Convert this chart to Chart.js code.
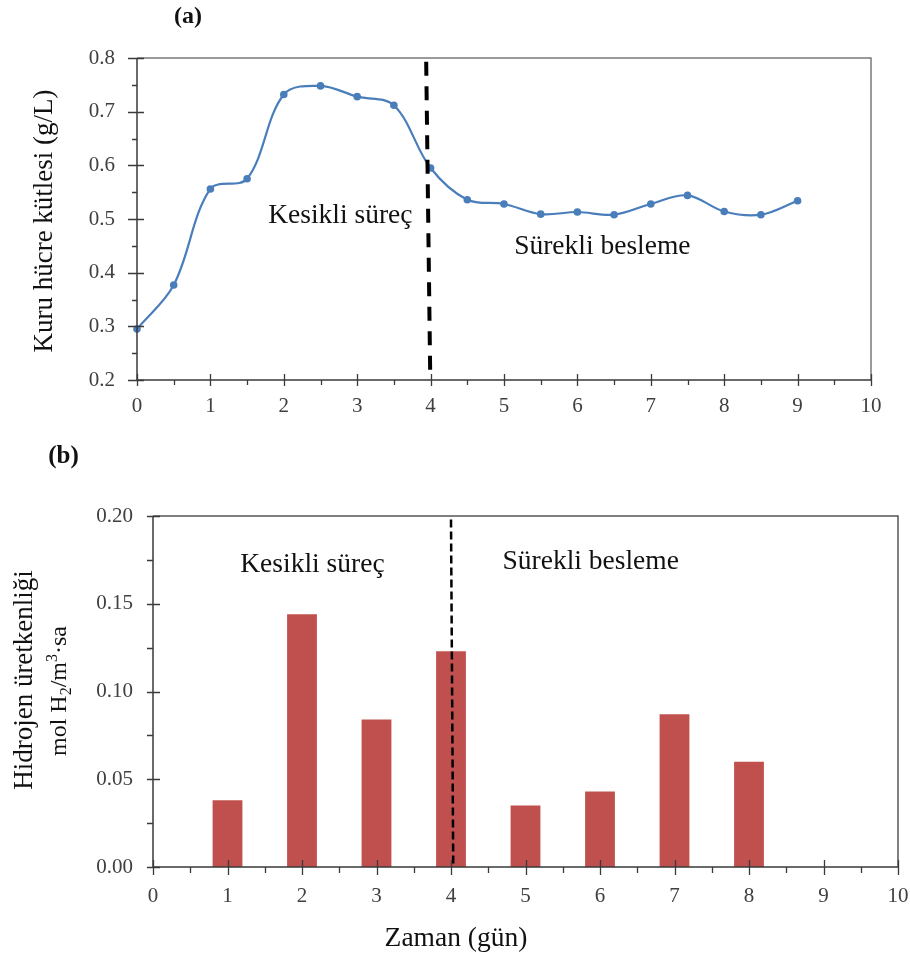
<!DOCTYPE html>
<html lang="tr">
<head>
<meta charset="utf-8">
<title>Kuru hücre kütlesi ve hidrojen üretkenliği</title>
<script src="https://cdn.jsdelivr.net/npm/chart.js@4.4.1/dist/chart.umd.min.js"></script>
<style>
  html, body { margin: 0; padding: 0; background: #fff; }
  #wrap { position: relative; width: 910px; height: 957px; }
  #chartA { position: absolute; left: 0; top: 0; }
  #chartB { position: absolute; left: 0; top: 420px; }
</style>
</head>
<body>
<div id="wrap">
  <canvas id="chartA" width="910" height="420"></canvas>
  <canvas id="chartB" width="910" height="537"></canvas>
</div>
<script>
// (a) dry cell mass, g/L
const daysA = [0, 0.5, 1, 1.5, 2, 2.5, 3, 3.5, 4, 4.5, 5, 5.5, 6, 6.5, 7, 7.5, 8, 8.5, 9];
const dryMass = [0.295, 0.377, 0.556, 0.575, 0.732, 0.748, 0.728, 0.712, 0.595, 0.536,
                 0.528, 0.509, 0.513, 0.508, 0.528, 0.544, 0.514, 0.508, 0.534];

// (b) hydrogen productivity, mol H2/m3.sa
const daysB = [1, 2, 3, 4, 5, 6, 7, 8];
const h2Rate = [0.038, 0.144, 0.084, 0.123, 0.035, 0.043, 0.087, 0.060];

// tick labels
const ticksA_y = [0.2, 0.3, 0.4, 0.5, 0.6, 0.7, 0.8];
const ticksB_y = [0.00, 0.05, 0.10, 0.15, 0.20];
const ticksX = [0, 1, 2, 3, 4, 5, 6, 7, 8, 9, 10];

const SERIF = "'Liberation Serif', 'Times New Roman', serif";
const TICK_COLOR = '#404040';
const AXIS_COLOR = '#3a3a3a';

/**
 * Draws axis lines, crossing/minor tick marks, frame and free texts
 */
const framePlugin = {
  id: 'frame',
  afterDraw(chart, args, o) {
    const { ctx, chartArea: a, scales: { x, y } } = chart;
    ctx.save();

    // top + right frame
    ctx.lineWidth = 1.5;
    ctx.strokeStyle = o.frameColor;
    ctx.beginPath();
    ctx.moveTo(a.left, a.top);
    ctx.lineTo(a.right, a.top);
    ctx.lineTo(a.right, a.bottom);
    ctx.stroke();

    // axes
    ctx.strokeStyle = AXIS_COLOR;
    ctx.beginPath();
    ctx.moveTo(a.left, a.top);
    ctx.lineTo(a.left, a.bottom);
    ctx.lineTo(a.right, a.bottom);
    ctx.stroke();

    ctx.lineWidth = 1.3;
    ctx.beginPath();
    o.yMajor.forEach(v => {
      const py = Math.round(y.getPixelForValue(v)) + 0.5;
      ctx.moveTo(a.left - o.yMajorLen[0], py);
      ctx.lineTo(a.left + o.yMajorLen[1], py);
    });
    for (let i = 0; i < o.yMajor.length - 1; i++) {
      const py = Math.round(y.getPixelForValue((o.yMajor[i] + o.yMajor[i + 1]) / 2)) + 0.5;
      ctx.moveTo(a.left - o.yMinorLen, py);
      ctx.lineTo(a.left, py);
    }
    ticksX.forEach(v => {
      const px = Math.round(x.getPixelForValue(v)) + 0.5;
      ctx.moveTo(px, a.bottom - o.xMajorLen[0]);
      ctx.lineTo(px, a.bottom + o.xMajorLen[1]);
    });
    for (let i = 0; i < ticksX.length - 1; i++) {
      const px = Math.round(x.getPixelForValue(ticksX[i] + 0.5)) + 0.5;
      ctx.moveTo(px, a.bottom);
      ctx.lineTo(px, a.bottom + o.xMinorLen);
    }
    ctx.stroke();

    // texts inside plot, placed in data units
    ctx.fillStyle = '#111';
    ctx.textAlign = 'center';
    ctx.textBaseline = 'alphabetic';
    o.notes.forEach(n => {
      ctx.font = `${n.size}px ${SERIF}`;
      ctx.fillText(n.text, x.getPixelForValue(n.x), y.getPixelForValue(n.y));
    });

    // panel letter
    ctx.font = `bold ${o.letter.size}px ${SERIF}`;
    ctx.fillText(o.letter.text, o.letter.cx, o.letter.base);

    // axis titles
    o.titles.forEach(t => {
      ctx.save();
      ctx.translate(t.bx, t.cy);
      if (t.rotate) ctx.rotate(-Math.PI / 2);
      drawRich(ctx, t.parts, t.size);
      ctx.restore();
    });

    ctx.restore();
  }
};

/**
 * Writes text made of normal / sub / sup parts centred on (0,0), baseline at 0
 */
function drawRich(ctx, parts, size) {
  const fontOf = k => `${k === 'n' ? size : Math.round(size * 0.65)}px ${SERIF}`;
  let total = 0;
  parts.forEach(([t, k]) => { ctx.font = fontOf(k); total += ctx.measureText(t).width; });
  let cx = -total / 2;
  ctx.textAlign = 'left';
  ctx.textBaseline = 'alphabetic';
  ctx.fillStyle = '#111';
  parts.forEach(([t, k]) => {
    ctx.font = fontOf(k);
    const dy = k === 'sub' ? size * 0.2 : k === 'sup' ? -size * 0.38 : 0;
    ctx.fillText(t, cx, dy);
    cx += ctx.measureText(t).width;
  });
}

function xScale(height, pad) {
  return {
    type: 'linear', min: 0, max: 10, offset: false,
    afterFit: s => {
      s.height = height;
      // don't let the "10" label push the plot area in
      s.paddingLeft = 0;
      s.paddingRight = 0;
    },
    afterBuildTicks: s => { s.ticks = ticksX.map(v => ({ value: v })); },
    ticks: { padding: pad, color: TICK_COLOR, autoSkip: false, maxRotation: 0,
             font: { family: SERIF, size: 21 } },
    grid: { display: false, drawTicks: false, offset: false },
    border: { display: false }
  };
}

function yScale(width, pad, ticks, digits, size) {
  return {
    type: 'linear', min: ticks[0], max: ticks[ticks.length - 1],
    afterFit: s => { s.width = width; },
    afterBuildTicks: s => { s.ticks = ticks.map(v => ({ value: v })); },
    ticks: { padding: pad, color: TICK_COLOR, font: { family: SERIF, size: size },
             callback: v => v.toFixed(digits) },
    grid: { display: false, drawTicks: false },
    border: { display: false }
  };
}

function createMassChart() {
  const ctx = document.getElementById('chartA');
  new Chart(ctx, {
    type: 'line',
    data: {
      datasets: [
        {
          // phase boundary
          data: [{ x: 3.94, y: 0.793 }, { x: 3.995, y: 0.207 }],
          borderColor: '#000', borderWidth: 4, borderDash: [14, 10.5],
          pointRadius: 0, tension: 0, order: 0
        },
        {
          data: daysA.map((d, i) => ({ x: d, y: dryMass[i] })),
          borderColor: '#4A7EBB', backgroundColor: '#4A7EBB', borderWidth: 2.2,
          pointRadius: 3.8, pointBorderWidth: 0, tension: 0.35, order: 1, clip: false
        }
      ]
    },
    options: {
      responsive: false, animation: false,
      layout: { padding: { left: 0, right: 39, top: 58, bottom: 0 } },
      plugins: {
        legend: { display: false }, tooltip: { enabled: false },
        frame: {
          frameColor: '#7a7a7a',
          yMajor: ticksA_y, yMajorLen: [9, 7], yMinorLen: 5,
          xMajorLen: [6, 6], xMinorLen: 5,
          notes: [
            { text: 'Kesikli süreç', x: 2.77, y: 0.493, size: 27.5 },
            { text: 'Sürekli besleme', x: 6.34, y: 0.435, size: 27.5 }
          ],
          letter: { text: '(a)', cx: 188, base: 23, size: 24 },
          titles: [
            { parts: [['Kuru hücre kütlesi (g/L)', 'n']], bx: 52, cy: 221, size: 27, rotate: true }
          ]
        }
      },
      scales: { x: xScale(40, 14), y: yScale(137, 22, ticksA_y, 1, 21) }
    },
    plugins: [framePlugin]
  });
}

function createHydrogenChart() {
  const ctx = document.getElementById('chartB');
  new Chart(ctx, {
    type: 'bar',
    data: {
      datasets: [
        {
          type: 'line',
          data: [{ x: 4.0, y: 0.198 }, { x: 4.03, y: 0 }],
          borderColor: '#000', borderWidth: 2.5, borderDash: [8, 4],
          pointRadius: 0, tension: 0, order: 0
        },
        {
          data: daysB.map((d, i) => ({ x: d, y: h2Rate[i] })),
          backgroundColor: '#C0504D', borderWidth: 0,
          barPercentage: 0.4, categoryPercentage: 1.0, order: 1
        }
      ]
    },
    options: {
      responsive: false, animation: false,
      layout: { padding: { left: 0, right: 12, top: 96, bottom: 0 } },
      plugins: {
        legend: { display: false }, tooltip: { enabled: false },
        frame: {
          frameColor: '#555',
          yMajor: ticksB_y, yMajorLen: [6, 7], yMinorLen: 6,
          xMajorLen: [7, 8], xMinorLen: 6,
          notes: [
            { text: 'Kesikli süreç', x: 2.14, y: 0.168, size: 27.5 },
            { text: 'Sürekli besleme', x: 5.875, y: 0.170, size: 27.5 }
          ],
          letter: { text: '(b)', cx: 63.5, base: 43, size: 25 },
          titles: [
            { parts: [['Hidrojen üretkenliği', 'n']], bx: 32, cy: 260, size: 27, rotate: true },
            { parts: [['mol H', 'n'], ['2', 'sub'], ['/m', 'n'], ['3', 'sup'], ['·sa', 'n']],
              bx: 66, cy: 271, size: 24, rotate: true },
            { parts: [['Zaman (gün)', 'n']], bx: 456, cy: 526, size: 27.5, rotate: false }
          ]
        }
      },
      scales: { x: xScale(90, 17), y: yScale(153, 20, ticksB_y, 2, 21) }
    },
    plugins: [framePlugin]
  });
}

createMassChart();
createHydrogenChart();
</script>
</body>
</html>
